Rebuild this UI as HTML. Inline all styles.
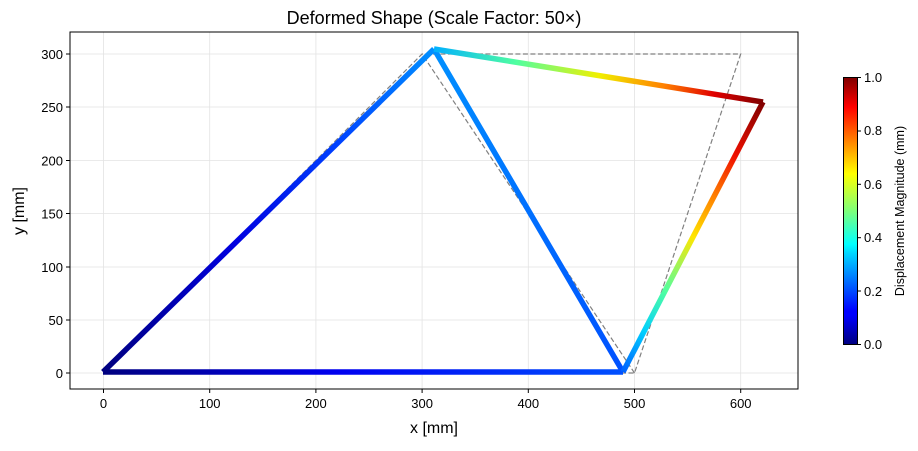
<!DOCTYPE html>
<html><head><meta charset="utf-8"><style>
body{margin:0;background:#fff;}
text{font-family:"Liberation Sans","DejaVu Sans",sans-serif;fill:#000;}
</style></head><body>
<svg width="918" height="446" viewBox="0 0 918 446" xmlns="http://www.w3.org/2000/svg">
<defs>
<linearGradient id="gb" gradientUnits="userSpaceOnUse" x1="103" y1="372" x2="623" y2="372">
<stop offset="0" stop-color="#00007f"/><stop offset="0.45" stop-color="#0000f0"/><stop offset="1" stop-color="#0050ff"/></linearGradient>
<linearGradient id="gl" gradientUnits="userSpaceOnUse" x1="103" y1="372" x2="434" y2="49">
<stop offset="0" stop-color="#00007f"/><stop offset="0.4" stop-color="#0000e0"/><stop offset="0.7" stop-color="#0040ff"/><stop offset="1" stop-color="#0090ff"/></linearGradient>
<linearGradient id="gd" gradientUnits="userSpaceOnUse" x1="623" y1="372" x2="434" y2="49">
<stop offset="0" stop-color="#0050ff"/><stop offset="1" stop-color="#0090ff"/></linearGradient>
<linearGradient id="gr" gradientUnits="userSpaceOnUse" x1="623" y1="372" x2="763" y2="102">
<stop offset="0" stop-color="#0060ff"/><stop offset="0.15" stop-color="#00d0ff"/><stop offset="0.3" stop-color="#50ffa0"/><stop offset="0.5" stop-color="#ffe600"/><stop offset="0.65" stop-color="#ff8000"/><stop offset="0.8" stop-color="#f01000"/><stop offset="1" stop-color="#7f0000"/></linearGradient>
<linearGradient id="gt" gradientUnits="userSpaceOnUse" x1="434" y1="49" x2="763" y2="102">
<stop offset="0" stop-color="#00b0ff"/><stop offset="0.25" stop-color="#50ffa0"/><stop offset="0.5" stop-color="#f0f000"/><stop offset="0.7" stop-color="#ff8000"/><stop offset="0.85" stop-color="#e00000"/><stop offset="1" stop-color="#7f0000"/></linearGradient>
<linearGradient id="cb" x1="0" y1="1" x2="0" y2="0">
<stop offset="0" stop-color="#00007f"/><stop offset="0.11" stop-color="#0000ff"/><stop offset="0.125" stop-color="#0000ff"/><stop offset="0.34" stop-color="#00d4ff"/><stop offset="0.375" stop-color="#0ff"/><stop offset="0.5" stop-color="#7dff7a"/><stop offset="0.64" stop-color="#ff0"/><stop offset="0.66" stop-color="#ffea00"/><stop offset="0.89" stop-color="#ff0000"/><stop offset="1" stop-color="#7f0000"/></linearGradient>
</defs>
<text x="434" y="24" font-size="18" text-anchor="middle">Deformed Shape (Scale Factor: 50×)</text>
<g stroke="#e3e3e3" stroke-width="0.8">
<line x1="103.5" y1="32" x2="103.5" y2="389"/><line x1="209.7" y1="32" x2="209.7" y2="389"/><line x1="315.9" y1="32" x2="315.9" y2="389"/><line x1="422.1" y1="32" x2="422.1" y2="389"/><line x1="528.3" y1="32" x2="528.3" y2="389"/><line x1="634.5" y1="32" x2="634.5" y2="389"/><line x1="740.7" y1="32" x2="740.7" y2="389"/>
<line x1="70" y1="373" x2="798" y2="373"/><line x1="70" y1="320" x2="798" y2="320"/><line x1="70" y1="267" x2="798" y2="267"/><line x1="70" y1="213.5" x2="798" y2="213.5"/><line x1="70" y1="160.5" x2="798" y2="160.5"/><line x1="70" y1="107" x2="798" y2="107"/><line x1="70" y1="54" x2="798" y2="54"/>
</g>
<g stroke="#808080" stroke-width="1.2" stroke-dasharray="5,2.5" fill="none">
<polyline points="103.5,373 634.5,373 740.7,54 422.1,54 103.5,373"/><line x1="634.5" y1="373" x2="422.1" y2="54"/>
</g>
<g stroke-width="5.5" fill="none" stroke-linecap="butt">
<line x1="103" y1="372" x2="623" y2="372" stroke="url(#gb)"/>
<line x1="103" y1="372" x2="434" y2="49" stroke="url(#gl)"/>
<line x1="623" y1="372" x2="434" y2="49" stroke="url(#gd)"/>
<line x1="623" y1="372" x2="763" y2="102" stroke="url(#gr)"/>
<line x1="434" y1="49" x2="763" y2="102" stroke="url(#gt)"/>
</g>
<rect x="70" y="32" width="728" height="357" fill="none" stroke="#000" stroke-width="1"/>
<g font-size="13" text-anchor="middle">
<text x="103.5" y="408">0</text><text x="209.7" y="408">100</text><text x="315.9" y="408">200</text><text x="422.1" y="408">300</text><text x="528.3" y="408">400</text><text x="634.5" y="408">500</text><text x="740.7" y="408">600</text>
</g>
<g stroke="#000"><line x1="103.5" y1="389" x2="103.5" y2="393"/><line x1="209.7" y1="389" x2="209.7" y2="393"/><line x1="315.9" y1="389" x2="315.9" y2="393"/><line x1="422.1" y1="389" x2="422.1" y2="393"/><line x1="528.3" y1="389" x2="528.3" y2="393"/><line x1="634.5" y1="389" x2="634.5" y2="393"/><line x1="740.7" y1="389" x2="740.7" y2="393"/>
<line x1="66" y1="373" x2="70" y2="373"/><line x1="66" y1="320" x2="70" y2="320"/><line x1="66" y1="267" x2="70" y2="267"/><line x1="66" y1="213.5" x2="70" y2="213.5"/><line x1="66" y1="160.5" x2="70" y2="160.5"/><line x1="66" y1="107" x2="70" y2="107"/><line x1="66" y1="54" x2="70" y2="54"/></g>
<g font-size="13" text-anchor="end">
<text x="63" y="378">0</text><text x="63" y="325">50</text><text x="63" y="272">100</text><text x="63" y="218.5">150</text><text x="63" y="165.5">200</text><text x="63" y="112">250</text><text x="63" y="59">300</text>
</g>
<text x="434" y="433" font-size="16" text-anchor="middle">x [mm]</text>
<text transform="translate(24,211) rotate(-90)" font-size="16" text-anchor="middle">y [mm]</text>
<rect x="843.5" y="77.5" width="14" height="267" fill="url(#cb)" stroke="#000" stroke-width="1"/>
<g stroke="#000"><line x1="857.5" y1="344.5" x2="861" y2="344.5"/><line x1="857.5" y1="291" x2="861" y2="291"/><line x1="857.5" y1="237.7" x2="861" y2="237.7"/><line x1="857.5" y1="184.3" x2="861" y2="184.3"/><line x1="857.5" y1="131" x2="861" y2="131"/><line x1="857.5" y1="77.5" x2="861" y2="77.5"/></g>
<g font-size="13"><text x="864" y="349">0.0</text><text x="864" y="296">0.2</text><text x="864" y="242">0.4</text><text x="864" y="189">0.6</text><text x="864" y="135">0.8</text><text x="864" y="82">1.0</text></g>
<text transform="translate(904,211) rotate(-90)" font-size="12.5" text-anchor="middle">Displacement Magnitude (mm)</text>
</svg>
</body></html>
